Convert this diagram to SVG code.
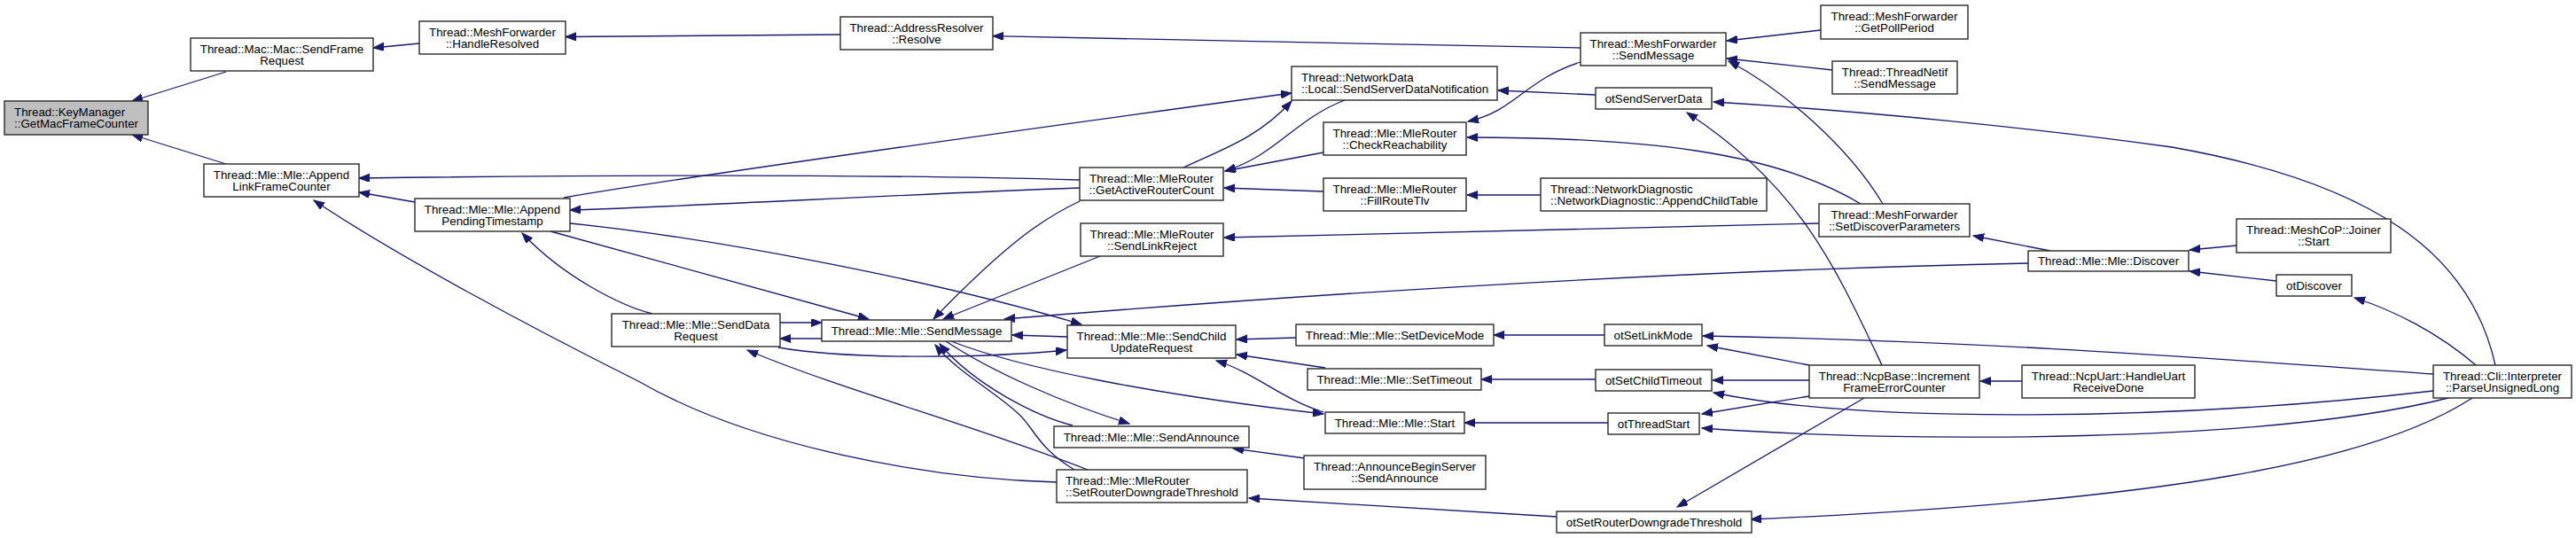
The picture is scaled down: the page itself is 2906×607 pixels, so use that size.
<svg xmlns="http://www.w3.org/2000/svg" width="2906" height="607" viewBox="0 0 2906 607">
<style>
.n rect{fill:#fff;stroke:#2a2a2a;stroke-width:1.4}
.root rect{fill:#bfbfbf}
text{font-family:"Liberation Sans",Arial,sans-serif;font-size:13.33px;fill:#000}
.c{text-anchor:middle}
#edges path{fill:none;stroke:#191970;stroke-width:1.3;marker-end:url(#a)}
</style>
<defs>
<marker id="a" markerUnits="userSpaceOnUse" markerWidth="13" markerHeight="10" refX="12" refY="4.5" orient="auto">
<path d="M0,0 L12,4.5 L0,9 z" fill="#191970" stroke="#191970" stroke-width="1"/>
</marker>
</defs>
<rect width="2906" height="607" fill="#fff"/>
<g id="edges">
<path d="M255,81 L149,114"/>
<path d="M255,185 L149,152"/>
<path d="M473,49 L421,54"/>
<path d="M948,39 L638,41.5"/>
<path d="M1783,54 L1120,40.7"/>
<path d="M2054,34 L1948,46"/>
<path d="M2067,79 L1948,66"/>
<path d="M2124,230 C2085,165 2010,100 1950,69"/>
<path d="M1218,203 C1000,197 700,197 405,201"/>
<path d="M468,228 L405,217"/>
<path d="M1192,544 C1050,540 850,505 720,430 C600,370 450,290 354,226"/>
<path d="M1218,212 C1000,220 800,232 643,237"/>
<path d="M636,223 C800,195 1200,140 1457,105"/>
<path d="M1335,189 C1380,168 1420,155 1457,114"/>
<path d="M1517,113 C1460,135 1440,175 1382,193"/>
<path d="M1493,172 L1382,193"/>
<path d="M1493,216 L1381,212"/>
<path d="M1218,227 C1180,245 1140,270 1053,360"/>
<path d="M1241,289 L1064,360"/>
<path d="M2052,252 L1381,268"/>
<path d="M643,252 C800,268 1050,315 1220,366"/>
<path d="M621,261 L980,360"/>
<path d="M736,354 C700,345 635,312 589,263"/>
<path d="M880,364 L927,364"/>
<path d="M927,382 L880,382"/>
<path d="M1204,380 L1142,378"/>
<path d="M2288,297 C1900,305 1500,330 1133,360"/>
<path d="M878,392 C950,405 1100,405 1203,395"/>
<path d="M1210,480 C1170,470 1100,435 1060,388"/>
<path d="M1212,530 C1170,505 1165,480 1148,466 C1120,440 1080,420 1055,389"/>
<path d="M1067,385 C1120,420 1200,455 1274,478"/>
<path d="M1073,385 C1150,415 1300,445 1493,467"/>
<path d="M1493,465 C1445,450 1415,420 1372,407"/>
<path d="M1462,381 L1395,383"/>
<path d="M1495,415 L1395,400"/>
<path d="M1472,517 L1391,506"/>
<path d="M1756,583 L1409,562"/>
<path d="M1227,530 C1100,480 950,440 843,395"/>
<path d="M1810,378 L1685,378"/>
<path d="M1800,428 L1671,428"/>
<path d="M1814,477 L1652,477"/>
<path d="M2041,412 L1926,390"/>
<path d="M2745,422 C2500,405 2250,385 1921,379"/>
<path d="M2041,429 L1932,429"/>
<path d="M2745,441 C2450,475 2100,478 1933,443"/>
<path d="M2041,447 L1920,467"/>
<path d="M2762,449 C2560,500 2150,500 1920,483"/>
<path d="M2103,449 L1892,572"/>
<path d="M2789,449 C2680,520 2450,565 1975,586"/>
<path d="M2123,412 C2070,300 2030,210 1903,127"/>
<path d="M2815,412 C2790,300 2700,210 2450,166 C2300,145 2100,125 1933,115"/>
<path d="M2793,412 C2750,375 2700,350 2656,336"/>
<path d="M2568,317 L2470,306"/>
<path d="M2523,277 L2470,282"/>
<path d="M2313,283 L2226,266"/>
<path d="M2281,430 L2234,430"/>
<path d="M2099,230 C2000,170 1850,155 1655,155"/>
<path d="M1783,70 C1720,90 1710,125 1656,137"/>
<path d="M1738,220 L1655,220"/>
<path d="M1800,107 L1690,102"/>
</g>
<g id="n1" class="n root"><rect x="5" y="114" width="162" height="38"/><text x="16" y="131">Thread::KeyManager</text><text x="16" y="144.3">::GetMacFrameCounter</text></g>
<g id="n2" class="n"><rect x="215" y="43" width="206" height="37"/><text class="c" x="318" y="59.8">Thread::Mac::Mac::SendFrame</text><text class="c" x="318" y="73">Request</text></g>
<g id="n3" class="n"><rect x="473" y="24" width="165" height="37"/><text class="c" x="555.5" y="40.8">Thread::MeshForwarder</text><text class="c" x="555.5" y="54">::HandleResolved</text></g>
<g id="n4" class="n"><rect x="948" y="19" width="172" height="37"/><text class="c" x="1034" y="35.8">Thread::AddressResolver</text><text class="c" x="1034" y="49">::Resolve</text></g>
<g id="n5" class="n"><rect x="230" y="185" width="175" height="37"/><text class="c" x="317.5" y="201.8">Thread::Mle::Mle::Append</text><text class="c" x="317.5" y="215">LinkFrameCounter</text></g>
<g id="n6" class="n"><rect x="468" y="224" width="175" height="37"/><text class="c" x="555.5" y="240.8">Thread::Mle::Mle::Append</text><text class="c" x="555.5" y="254">PendingTimestamp</text></g>
<g id="n7" class="n"><rect x="1218" y="189" width="162" height="37"/><text class="c" x="1299" y="205.8">Thread::Mle::MleRouter</text><text class="c" x="1299" y="219">::GetActiveRouterCount</text></g>
<g id="n8" class="n"><rect x="1219" y="252" width="161" height="37"/><text class="c" x="1299.5" y="268.8">Thread::Mle::MleRouter</text><text class="c" x="1299.5" y="282">::SendLinkReject</text></g>
<g id="n9" class="n"><rect x="690" y="354" width="190" height="37"/><text class="c" x="785" y="370.8">Thread::Mle::Mle::SendData</text><text class="c" x="785" y="384">Request</text></g>
<g id="n10" class="n"><rect x="927" y="361" width="214" height="24"/><text class="c" x="1034" y="377.5">Thread::Mle::Mle::SendMessage</text></g>
<g id="n11" class="n"><rect x="1204" y="367" width="190" height="37"/><text class="c" x="1299" y="383.8">Thread::Mle::Mle::SendChild</text><text class="c" x="1299" y="397">UpdateRequest</text></g>
<g id="n12" class="n"><rect x="1189" y="481" width="220" height="24"/><text class="c" x="1299" y="497.5">Thread::Mle::Mle::SendAnnounce</text></g>
<g id="n13" class="n"><rect x="1192" y="530" width="215" height="37"/><text x="1202" y="546.8">Thread::Mle::MleRouter</text><text x="1202" y="560">::SetRouterDowngradeThreshold</text></g>
<g id="n14" class="n"><rect x="1783" y="37" width="164" height="37"/><text class="c" x="1865" y="53.8">Thread::MeshForwarder</text><text class="c" x="1865" y="67">::SendMessage</text></g>
<g id="n15" class="n"><rect x="1457" y="75" width="232" height="38"/><text x="1468" y="92">Thread::NetworkData</text><text x="1468" y="105.3">::Local::SendServerDataNotification</text></g>
<g id="n16" class="n"><rect x="1800" y="99" width="131" height="24"/><text class="c" x="1865.5" y="115.5">otSendServerData</text></g>
<g id="n17" class="n"><rect x="1493" y="138" width="161" height="37"/><text class="c" x="1573.5" y="154.8">Thread::Mle::MleRouter</text><text class="c" x="1573.5" y="168">::CheckReachability</text></g>
<g id="n18" class="n"><rect x="1493" y="201" width="161" height="37"/><text class="c" x="1573.5" y="217.8">Thread::Mle::MleRouter</text><text class="c" x="1573.5" y="231">::FillRouteTlv</text></g>
<g id="n19" class="n"><rect x="1738" y="201" width="255" height="37"/><text x="1749" y="217.8">Thread::NetworkDiagnostic</text><text x="1749" y="231">::NetworkDiagnostic::AppendChildTable</text></g>
<g id="n20" class="n"><rect x="2052" y="230" width="170" height="37"/><text class="c" x="2137" y="246.8">Thread::MeshForwarder</text><text class="c" x="2137" y="260">::SetDiscoverParameters</text></g>
<g id="n21" class="n"><rect x="2054" y="6" width="166" height="38"/><text class="c" x="2137" y="23">Thread::MeshForwarder</text><text class="c" x="2137" y="36.3">::GetPollPeriod</text></g>
<g id="n22" class="n"><rect x="2067" y="69" width="141" height="37"/><text class="c" x="2137.5" y="85.8">Thread::ThreadNetif</text><text class="c" x="2137.5" y="99">::SendMessage</text></g>
<g id="n23" class="n"><rect x="1462" y="366" width="223" height="24"/><text class="c" x="1573.5" y="382.5">Thread::Mle::Mle::SetDeviceMode</text></g>
<g id="n24" class="n"><rect x="1810" y="366" width="110" height="24"/><text class="c" x="1865" y="382.5">otSetLinkMode</text></g>
<g id="n25" class="n"><rect x="1475" y="416" width="196" height="24"/><text class="c" x="1573" y="432.5">Thread::Mle::Mle::SetTimeout</text></g>
<g id="n26" class="n"><rect x="1800" y="417" width="131" height="24"/><text class="c" x="1865.5" y="433.5">otSetChildTimeout</text></g>
<g id="n27" class="n"><rect x="1495" y="465" width="157" height="24"/><text class="c" x="1573.5" y="481.5">Thread::Mle::Mle::Start</text></g>
<g id="n28" class="n"><rect x="1814" y="466" width="103" height="24"/><text class="c" x="1865.5" y="482.5">otThreadStart</text></g>
<g id="n29" class="n"><rect x="1471" y="514" width="205" height="38"/><text class="c" x="1573.5" y="531">Thread::AnnounceBeginServer</text><text class="c" x="1573.5" y="544.3">::SendAnnounce</text></g>
<g id="n30" class="n"><rect x="1756" y="577" width="220" height="24"/><text class="c" x="1866" y="593.5">otSetRouterDowngradeThreshold</text></g>
<g id="n31" class="n"><rect x="2041" y="412" width="192" height="37"/><text class="c" x="2137" y="428.8">Thread::NcpBase::Increment</text><text class="c" x="2137" y="442">FrameErrorCounter</text></g>
<g id="n32" class="n"><rect x="2288" y="283" width="181" height="23"/><text class="c" x="2378.5" y="299">Thread::Mle::Mle::Discover</text></g>
<g id="n33" class="n"><rect x="2523" y="247" width="174" height="38"/><text class="c" x="2610" y="264">Thread::MeshCoP::Joiner</text><text class="c" x="2610" y="277.3">::Start</text></g>
<g id="n34" class="n"><rect x="2568" y="310" width="85" height="24"/><text class="c" x="2610.5" y="326.5">otDiscover</text></g>
<g id="n35" class="n"><rect x="2281" y="412" width="195" height="37"/><text class="c" x="2378.5" y="428.8">Thread::NcpUart::HandleUart</text><text class="c" x="2378.5" y="442">ReceiveDone</text></g>
<g id="n36" class="n"><rect x="2745" y="412" width="156" height="37"/><text class="c" x="2823" y="428.8">Thread::Cli::Interpreter</text><text class="c" x="2823" y="442">::ParseUnsignedLong</text></g>
</svg>
